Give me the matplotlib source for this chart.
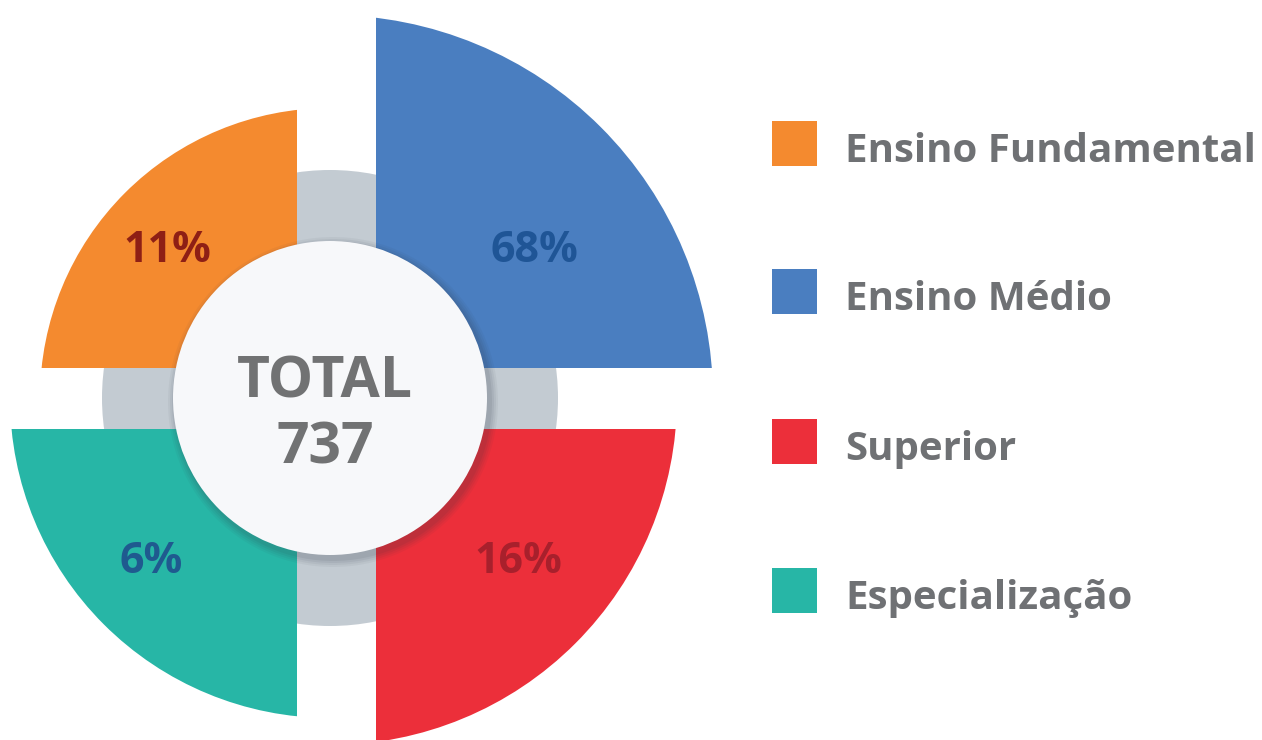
import matplotlib
matplotlib.use("Agg")
import matplotlib.pyplot as plt
from matplotlib.patches import Wedge, Circle, Rectangle

# ---- data ----
categories = ['Ensino Fundamental', 'Ensino Médio', 'Superior', 'Especialização']
percentages = [11, 68, 16, 6]
total = 737
total_label = 'TOTAL'

colors = ['#f48a2f', '#4a7ec0', '#ec2f3a', '#27b6a6']
label_colors = ['#8e1f15', '#1f5596', '#a8202c', '#1f5a8f']

# ---- layout (pixel space, y downward) ----
W, H = 1262, 740
cx, cy = 330, 398
gap_x = (297, 376)
gap_y = (368, 429)
theta_ranges = [(180, 270), (270, 360), (0, 90), (90, 180)]
radii = [290, 383, 347, 320]
clip_boxes = [(0, 0, gap_x[0], gap_y[0]),
              (gap_x[1], 0, 800, gap_y[0]),
              (gap_x[1], gap_y[1], 800, H),
              (0, gap_y[1], gap_x[0], H)]
label_pos = [(167, 262), (534, 262), (518, 573), (151, 573)]
ring_r = 228
core_r = 157

plt.rcParams['font.family'] = ['Open Sans', 'DejaVu Sans']
WEIGHT = 'bold'

fig = plt.figure(figsize=(W / 100, H / 100), dpi=100)
ax = fig.add_axes([0, 0, 1, 1])
ax.set_xlim(0, W)
ax.set_ylim(H, 0)
ax.set_aspect('equal')
ax.axis('off')

# grey ring behind
ax.add_patch(Circle((cx, cy), ring_r, facecolor='#c3cbd2', edgecolor='none', zorder=1))

# quadrant sectors
for i in range(len(categories)):
    t1, t2 = theta_ranges[i]
    w = Wedge((cx, cy), radii[i], t1, t2, facecolor=colors[i], edgecolor='none', zorder=2)
    x0, y0, x1, y1 = clip_boxes[i]
    clip = Rectangle((x0, y0), x1 - x0, y1 - y0, transform=ax.transData)
    ax.add_patch(w)
    w.set_clip_path(clip)
    lx, ly = label_pos[i]
    ax.text(lx, ly, f'{percentages[i]}%', ha='center', va='baseline',
            fontsize=31, fontweight=WEIGHT, color=label_colors[i], zorder=5)

# shadow of the centre disc
for k, a in enumerate([0.05, 0.06, 0.07, 0.08]):
    ax.add_patch(Circle((cx + 3, cy + 4), core_r + 8 - 2 * k, facecolor='#303a46',
                        edgecolor='none', alpha=a, zorder=3))
ax.add_patch(Circle((cx, cy), core_r, facecolor='#f7f8fa', edgecolor='none', zorder=4))

ax.text(325, 397, total_label, ha='center', va='baseline', fontsize=41,
        fontweight=WEIGHT, color='#717273', zorder=5)
ax.text(325, 463, str(total), ha='center', va='baseline', fontsize=41,
        fontweight=WEIGHT, color='#717273', zorder=5)

# legend
leg_x, leg_size = 772, 45
leg_tops = [121, 269, 419, 568]
for i, cat in enumerate(categories):
    ax.add_patch(Rectangle((leg_x, leg_tops[i]), leg_size, leg_size,
                           facecolor=colors[i], edgecolor='none', zorder=2))
    ax.text(845, leg_tops[i] + leg_size / 2 + 18.5, cat, ha='left', va='baseline',
            fontsize=29, fontweight=WEIGHT, color='#6f7174', zorder=5)

fig.savefig('out.png', dpi=100, facecolor='white')
